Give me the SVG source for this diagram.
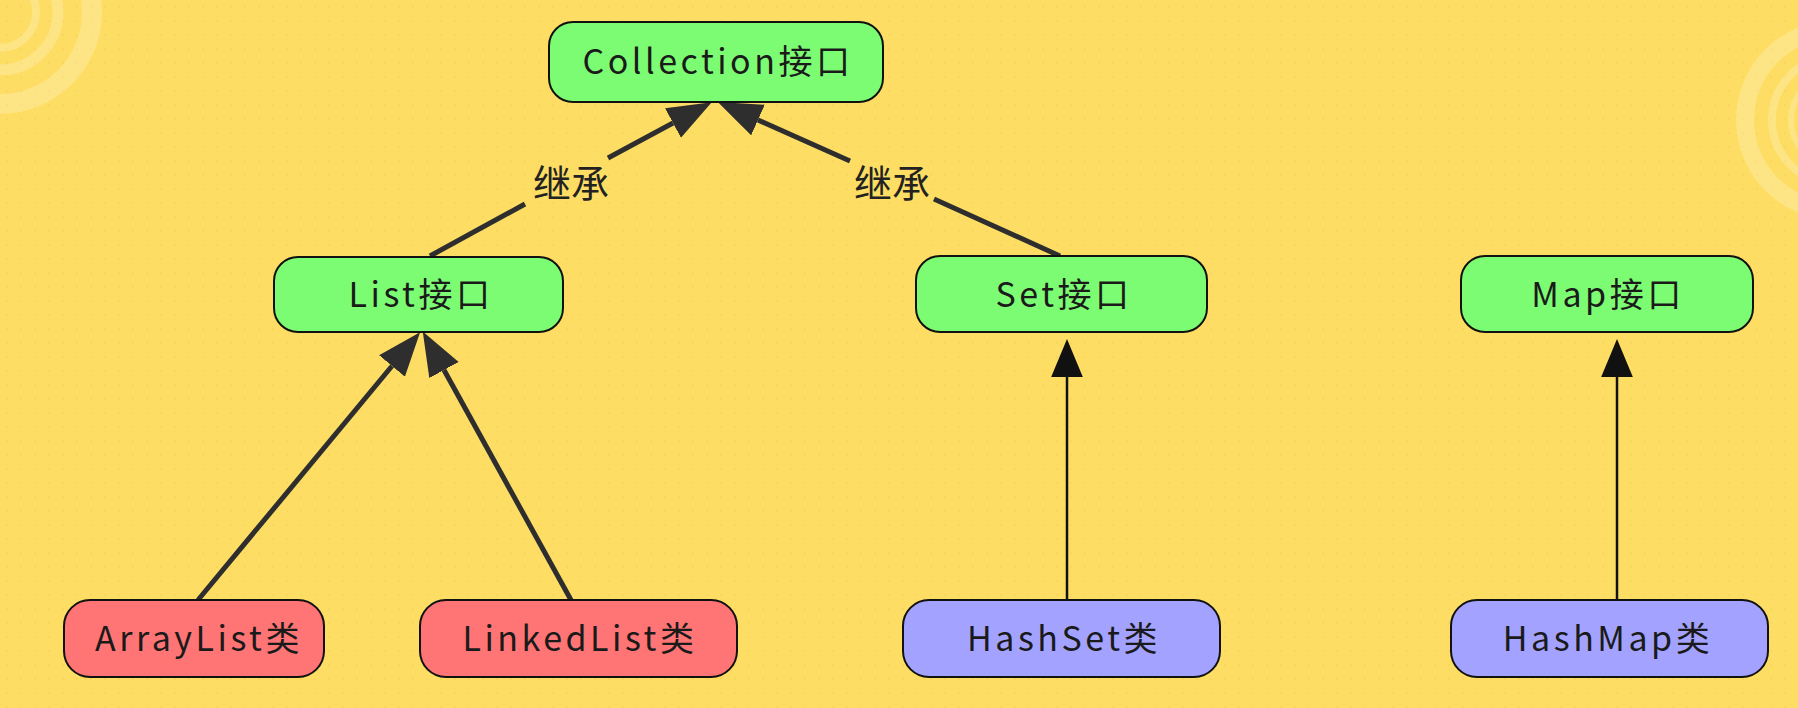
<svg xmlns="http://www.w3.org/2000/svg" width="1798" height="708" viewBox="0 0 1798 708">
  <defs>
    <style>
      .node rect { stroke: #111; stroke-width: 2; }
      .iface rect { fill: #7cfc72; }
      .list rect { fill: #ff7474; }
      .hash rect { fill: #a3a3ff; }
      .node text { font-family: "Noto Sans CJK SC", "Noto Sans", sans-serif; font-size: 34px; letter-spacing: 3.5px; fill: #1a1a1a; text-anchor: middle; }
      .thick { fill: none; stroke: #2e2e2e; stroke-width: 5; marker-end: url(#headThick); }
      .thin { fill: none; stroke: #111; stroke-width: 2.5; marker-end: url(#headThin); }
      .lbl { font-family: "Noto Sans CJK SC", sans-serif; font-size: 38px; fill: #222; text-anchor: middle; }
      .ring { fill: none; stroke: #ffffff; stroke-opacity: 0.22; }
    </style>
    <pattern id="dots" width="14" height="14" patternUnits="userSpaceOnUse">
      <circle cx="7" cy="7" r="1.1" fill="#e3b93f" fill-opacity="0.2"/>
    </pattern>
    <marker id="headThick" markerUnits="userSpaceOnUse" markerWidth="44" markerHeight="34" viewBox="0 0 42 32" refX="0" refY="16" orient="auto">
      <path d="M0,0 L42,16 L0,32 z" fill="#2e2e2e"/>
    </marker>
    <marker id="headThin" markerUnits="userSpaceOnUse" markerWidth="38" markerHeight="32" viewBox="0 0 36 30" refX="0" refY="15" orient="auto">
      <path d="M0,0 L36,15 L0,30 z" fill="#111"/>
    </marker>
  </defs>

  <rect width="1798" height="708" fill="#fddd63"/>
  <rect width="1798" height="708" fill="url(#dots)"/>
  <g id="decor">
    <circle class="ring" cx="0" cy="12" r="92" stroke-width="20"/>
    <circle class="ring" cx="0" cy="12" r="58" stroke-width="11"/>
    <circle class="ring" cx="0" cy="12" r="36" stroke-width="8"/>
    <circle class="ring" cx="1836" cy="120" r="91" stroke-width="18"/>
    <circle class="ring" cx="1836" cy="120" r="64" stroke-width="8"/>
    <circle class="ring" cx="1836" cy="120" r="45" stroke-width="6"/>
  </g>

  <g id="connectors">
    <path class="thick" d="M430,256 L525,204 M608,158 L673,123"/>
    <path class="thick" d="M1060,256 L934,199 M850,161 L758,120"/>
    <path class="thick" d="M198,600 L392,366"/>
    <path class="thick" d="M571,600 L444,370"/>
    <path class="thin" d="M1067,600 L1067,377"/>
    <path class="thin" d="M1617,600 L1617,377"/>
    <text class="lbl" x="571" y="197">继承</text>
    <text class="lbl" x="892" y="197">继承</text>
  </g>

  <g id="collection" class="node iface">
    <rect x="549" y="22" width="334" height="80" rx="24"/>
    <text x="718" y="74">Collection接口</text>
  </g>
  <g id="list" class="node iface">
    <rect x="274" y="257" width="289" height="75" rx="24"/>
    <text x="421" y="307">List接口</text>
  </g>
  <g id="set" class="node iface">
    <rect x="916" y="256" width="291" height="76" rx="24"/>
    <text x="1064" y="307">Set接口</text>
  </g>
  <g id="map" class="node iface">
    <rect x="1461" y="256" width="292" height="76" rx="24"/>
    <text x="1608" y="307">Map接口</text>
  </g>
  <g id="arraylist" class="node list">
    <rect x="64" y="600" width="260" height="77" rx="26"/>
    <text x="199" y="651">ArrayList类</text>
  </g>
  <g id="linkedlist" class="node list">
    <rect x="420" y="600" width="317" height="77" rx="26"/>
    <text x="580" y="651">LinkedList类</text>
  </g>
  <g id="hashset" class="node hash">
    <rect x="903" y="600" width="317" height="77" rx="26"/>
    <text x="1064" y="651">HashSet类</text>
  </g>
  <g id="hashmap" class="node hash">
    <rect x="1451" y="600" width="317" height="77" rx="26"/>
    <text x="1608" y="651">HashMap类</text>
  </g>
</svg>
